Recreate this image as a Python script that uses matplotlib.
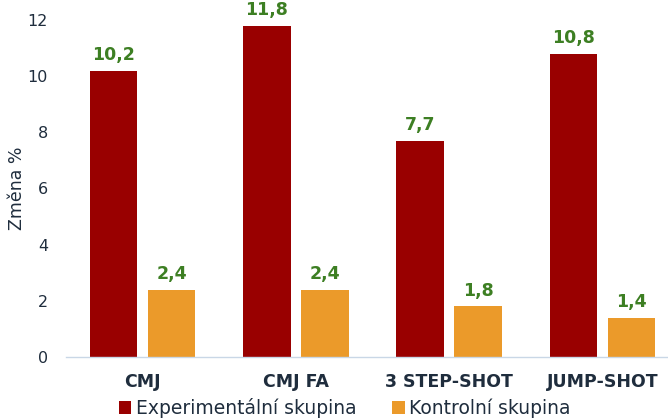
import matplotlib
matplotlib.use("Agg")
import matplotlib.pyplot as plt
import numpy as np

categories = ["CMJ", "CMJ FA", "3 STEP-SHOT", "JUMP-SHOT"]
experimental = [10.2, 11.8, 7.7, 10.8]
control = [2.4, 2.4, 1.8, 1.4]
series_names = ["Experimentální skupina", "Kontrolní skupina"]
y_ticks = [0, 2, 4, 6, 8, 10, 12]

plt.rcParams['font.family'] = ['DejaVu Sans']
text_color = "#1f2d3d"
label_color = "#3d7f23"
exp_color = "#990000"
ctrl_color = "#eb9a2a"

fig = plt.figure(figsize=(6.68, 4.18), dpi=100)
ax = fig.add_axes([66 / 668, 61 / 418, 613 / 668, 337 / 418])

x = np.arange(len(categories))
w = 0.31
off = 0.19
b1 = ax.bar(x - off, experimental, w, color=exp_color, label=series_names[0])
b2 = ax.bar(x + off, control, w, color=ctrl_color, label=series_names[1])

def fmt(v):
    return f"{v:.1f}".replace(".", ",")

for bars, vals in ((b1, experimental), (b2, control)):
    for rect, v in zip(bars, vals):
        ax.annotate(fmt(v), (rect.get_x() + rect.get_width() / 2, v),
                    xytext=(0, 5), textcoords="offset points",
                    ha="center", va="bottom", fontsize=12.5,
                    fontweight="bold", color=label_color)

ax.set_xlim(-0.5, 3.5)
ax.set_ylim(0, 12)
ax.set_yticks(y_ticks)
ax.set_yticklabels([str(t) for t in y_ticks], fontsize=11.5, color=text_color)
ax.set_xticks(x)
ax.set_xticklabels(categories, fontsize=12.5, fontweight="bold", color=text_color)
ax.tick_params(axis="y", length=0, pad=13)
ax.tick_params(axis="x", length=0, pad=11.5)
for s in ("top", "right", "left"):
    ax.spines[s].set_visible(False)
ax.spines["bottom"].set_color("#c9d7e6")
ax.spines["bottom"].set_linewidth(1)
ax.set_ylabel("Změna %", fontsize=12.5, color=text_color)
ax.yaxis.set_label_coords(-(66 - 26) / 613, 0.5)

fig.legend(handles=[b1, b2], labels=series_names, loc="center",
           bbox_to_anchor=(345 / 668, 1 - 408 / 418), ncol=2, frameon=False,
           fontsize=13.5, handlelength=0.65, handleheight=0.65,
           handletextpad=0.25, columnspacing=1.9, labelcolor=text_color,
           borderpad=0, borderaxespad=0)

fig.savefig("out.png", dpi=100)
